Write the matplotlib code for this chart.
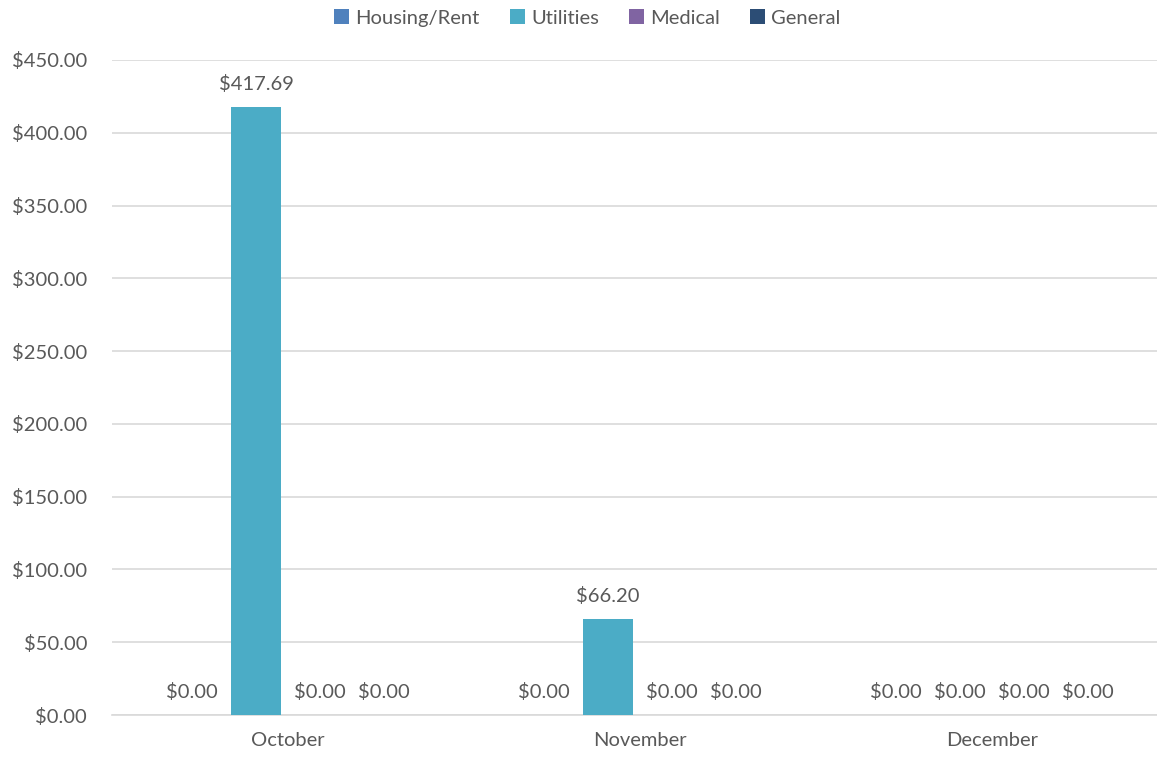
import matplotlib.pyplot as plt
import numpy as np
from matplotlib.ticker import FuncFormatter

months = ['October', 'November', 'December']
series_names = ['Housing/Rent', 'Utilities', 'Medical', 'General']
housing = [0.00, 0.00, 0.00]
utilities = [417.69, 66.20, 0.00]
medical = [0.00, 0.00, 0.00]
general = [0.00, 0.00, 0.00]
colors = ['#4F81BD', '#4BACC6', '#8064A2', '#2C4D75']

plt.rcParams['font.family'] = ['Lato', 'DejaVu Sans']
text_color = '#595959'
fs = 14.5

fig = plt.figure(figsize=(11.57, 7.71), dpi=100)
ax = fig.add_axes([0.097, 0.0726, 0.9127, 0.8496])

x = np.arange(len(months))
step = 0.182
width = 0.142
all_series = [housing, utilities, medical, general]
for i, (name, vals, c) in enumerate(zip(series_names, all_series, colors)):
    pos = x + (i - 1.5) * step
    bars = ax.bar(pos, vals, width=width, color=c, label=name, zorder=3)
    for b, v in zip(bars, vals):
        ax.annotate(f'${v:,.2f}', (b.get_x() + b.get_width() / 2, v),
                    xytext=(0, 10), textcoords='offset points',
                    ha='center', va='bottom', fontsize=fs, color=text_color)

ax.set_xlim(-0.5, 2.5)
ax.set_ylim(0, 450)
ax.set_yticks(np.arange(0, 451, 50))
ax.yaxis.set_major_formatter(FuncFormatter(lambda v, p: f'${v:,.2f}'))
ax.set_xticks(x)
ax.set_xticklabels(months)
ax.tick_params(axis='both', length=0, labelsize=fs, labelcolor=text_color)
ax.tick_params(axis='x', pad=12)
ax.tick_params(axis='y', pad=18)
ax.grid(axis='y', color='#D9D9D9', linewidth=1.2, zorder=0)
for s in ['top', 'right', 'left']:
    ax.spines[s].set_visible(False)
ax.spines['bottom'].set_color('#D9D9D9')
ax.spines['bottom'].set_linewidth(1.2)

leg = ax.legend(loc='upper center', bbox_to_anchor=(0.45, 1.105), ncol=4,
                frameon=False, fontsize=fs, handlelength=0.75, handleheight=0.75,
                handletextpad=0.3, columnspacing=1.5)
for t in leg.get_texts():
    t.set_color(text_color)

fig.savefig('out.png', dpi=100)
